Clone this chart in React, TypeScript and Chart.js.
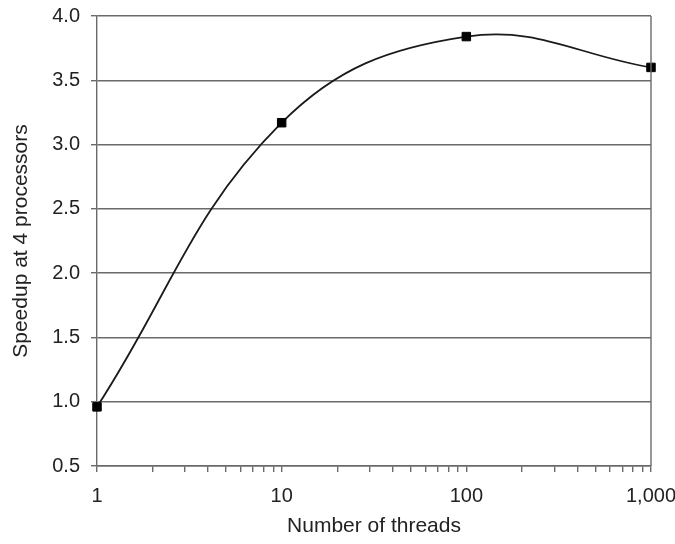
import React, { useEffect, useRef } from "react";
import { Chart, registerables } from "chart.js";

Chart.register(...registerables);

const threads = [1, 10, 100, 1000];
const speedup = [0.96, 3.17, 3.84, 3.6];
const xTickValues = [
  1, 2, 3, 4, 5, 6, 7, 8, 9,
  10, 20, 30, 40, 50, 60, 70, 80, 90,
  100, 200, 300, 400, 500, 600, 700, 800, 900,
  1000,
];
const xLabelValues = [1, 10, 100, 1000];
const xLabelTexts = ["1", "10", "100", "1,000"];
const yTitle = "Speedup at 4 processors";
const xTitle = "Number of threads";

const FONT = "'Liberation Sans', Arial, Helvetica, sans-serif";
const GRID = "#6a6a6a";

export default function App() {
  const ref = useRef<HTMLCanvasElement | null>(null);

  useEffect(() => {
    document.body.style.margin = "0";
    const ctx = ref.current!;
    const rightBorder = {
      id: "rightBorder",
      afterDraw(chart: any) {
        const { ctx: c, chartArea } = chart;
        c.save();
        c.strokeStyle = GRID;
        c.lineWidth = 1.4;
        c.beginPath();
        c.moveTo(chartArea.right, chartArea.top);
        c.lineTo(chartArea.right, chartArea.bottom);
        c.stroke();
        c.restore();
      },
    };
    const chart = new Chart(ctx, {
      type: "line",
      data: {
        datasets: [
          {
            data: threads.map((t, i) => ({ x: t, y: speedup[i] })),
            borderColor: "#1a1a1a",
            borderWidth: 1.8,
            tension: 0.4,
            pointStyle: "rect",
            pointRadius: 6,
            pointBackgroundColor: "#000",
            pointBorderColor: "#000",
            pointBorderWidth: 1,
            clip: false as any,
          },
        ],
      },
      options: {
        animation: false,
        responsive: false,
        maintainAspectRatio: false,
        layout: { padding: { top: 16, right: 24, left: 0, bottom: 0 } },
        plugins: { legend: { display: false }, tooltip: { enabled: false } },
        scales: {
          x: {
            type: "logarithmic",
            min: 1,
            max: 1000,
            afterBuildTicks: (scale: any) => {
              scale.ticks = xTickValues.map((v) => ({ value: v }));
            },
            afterFit: (scale: any) => {
              scale.height = 78;
              scale.paddingLeft = 0;
              scale.paddingRight = 0;
            },
            ticks: {
              autoSkip: false,
              maxRotation: 0,
              minRotation: 0,
              padding: 12,
              color: "#222",
              font: { family: FONT, size: 20 },
              callback: (v: any) => {
                const idx = xLabelValues.indexOf(Number(v));
                return idx >= 0 ? xLabelTexts[idx] : "";
              },
            },
            grid: {
              drawOnChartArea: false,
              drawTicks: true,
              tickLength: 6,
              color: GRID,
              lineWidth: 1.4,
            },
            border: { display: true, color: GRID, width: 1.4 },
            title: {
              display: true,
              text: xTitle,
              color: "#222",
              font: { family: FONT, size: 21 },
              padding: { top: 0, bottom: 5 },
            },
          },
          y: {
            type: "linear",
            min: 0.5,
            max: 4.0,
            afterFit: (scale: any) => {
              scale.width = 97;
              scale.paddingTop = 0;
              scale.paddingBottom = 0;
            },
            ticks: {
              stepSize: 0.5,
              padding: 11,
              color: "#222",
              font: { family: FONT, size: 20 },
              callback: (v: any) => Number(v).toFixed(1),
            },
            grid: {
              drawTicks: true,
              tickLength: 6,
              color: GRID,
              lineWidth: 1.4,
            },
            border: { display: true, color: GRID, width: 1.4 },
            title: {
              display: true,
              text: yTitle,
              color: "#222",
              font: { family: FONT, size: 21 },
              padding: { top: 9, bottom: 0 },
            },
          },
        },
      },
      plugins: [rightBorder],
    });
    return () => chart.destroy();
  }, []);

  return (
    <div style={{ position: "fixed", left: 0, top: 0, width: 675, height: 544, background: "#fff" }}>
      <canvas ref={ref} width={675} height={544} style={{ width: 675, height: 544 }} />
    </div>
  );
}
